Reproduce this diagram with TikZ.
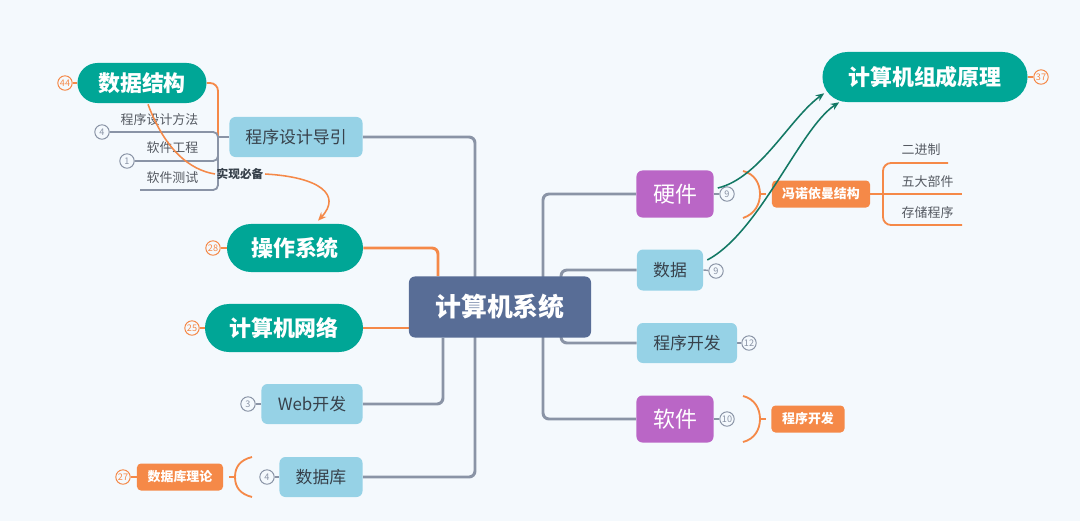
\documentclass[tikz,border=0pt]{standalone}
\usepackage{fontspec}
\setmainfont{Noto Sans CJK SC}
\usetikzlibrary{arrows.meta, positioning, calc, backgrounds}
\definecolor{bgblue}{RGB}{244, 249, 253}
\definecolor{slate}{RGB}{88, 109, 150}
\definecolor{teal1}{RGB}{0, 166, 150}
\definecolor{lblue}{RGB}{150, 210, 230}
\definecolor{purp}{RGB}{186, 102, 198}
\definecolor{orange1}{RGB}{245, 137, 72}
\definecolor{lgray}{RGB}{138, 148, 166}
\definecolor{dtext}{RGB}{55, 65, 75}
\definecolor{gray1}{RGB}{85, 90, 98}
\definecolor{agreen}{RGB}{18, 120, 100}

\begin{document}
\begin{tikzpicture}[x=0.025cm, y=-0.025cm,
  root/.style={fill=slate, rounded corners=0.15cm, text=white, inner sep=0,
               font=\fontsize{18.4}{19}\selectfont\bfseries,
               minimum width=4.55cm, minimum height=1.525cm},
  pill/.style={fill=teal1, rounded corners=#1, text=white, inner sep=0,
               font=\fontsize{15.6}{16}\selectfont\bfseries, minimum height=2*#1},
  box/.style={fill=lblue, rounded corners=0.15cm, text=dtext, inner sep=0,
              font=\fontsize{12}{12}\selectfont, minimum height=1cm},
  pbox/.style={fill=purp, rounded corners=0.15cm, text=white, inner sep=0,
               font=\fontsize{15.6}{16}\selectfont,
               minimum width=1.925cm, minimum height=1.175cm},
  tag/.style={fill=orange1, rounded corners=0.1cm, text=white, inner sep=0,
              font=\fontsize{9.2}{10}\selectfont\bfseries, minimum height=0.675cm},
  leaf/.style={text=gray1, inner sep=1pt, font=\fontsize{9.2}{10}\selectfont},
  badge/.style={circle, draw=#1, fill=bgblue, text=#1, line width=0.7pt,
                inner sep=0, minimum size=0.36cm, font=\fontsize{6.5}{7}\selectfont},
  trunk/.style={draw=lgray, line width=2.1pt, rounded corners=0.15cm},
  twig/.style={draw=lgray, line width=1.3pt, rounded corners=0.12cm},
  otrunk/.style={draw=orange1, line width=2.1pt, rounded corners=0.15cm},
  otwig/.style={draw=orange1, line width=1.3pt, rounded corners=0.2cm},
  brace/.style={draw=orange1, line width=1.3pt},
  link/.style={draw=agreen, line width=1.1pt, -{Stealth[length=6pt, width=5pt]}},
  rel/.style={draw=orange1, line width=1.1pt},
]
\useasboundingbox (0,0) rectangle (1080,521);

% Centre
\node[root] (sys) at (500,307) {计算机系统};

% Left side
\node[pill=0.5cm, minimum width=3.225cm] (ds) at (142,83) {数据结构};
\node[box, minimum width=3.325cm] (pd) at (296,137) {程序设计导引};
\node[pill=0.6cm, minimum width=3.4cm] (os) at (295,248) {操作系统};
\node[pill=0.6cm, minimum width=3.95cm] (net) at (284,328) {计算机网络};
\node[box, minimum width=2.525cm] (web) at (312,404) {Web开发};
\node[box, minimum width=2.075cm] (db) at (321,477) {数据库};
\node[tag, minimum width=2.15cm] (dbt) at (180,477) {数据库理论};

\node[leaf, anchor=east] (pm) at (200,120) {程序设计方法};
\node[leaf, anchor=east] (se) at (200,148) {软件工程};
\node[leaf, anchor=east] (st) at (200,178) {软件测试};

% Right side
\node[pill=0.625cm, minimum width=5.125cm] (cpo) at (925,77) {计算机组成原理};
\node[pbox] (hw) at (675,194) {硬件};
\node[box, minimum width=1.65cm, minimum height=1.025cm] (dat) at (670,270) {数据};
\node[box, minimum width=2.5cm] (pdev) at (687,343) {程序开发};
\node[pbox] (sw) at (675,419) {软件};
\node[tag, minimum width=2.45cm] (vn) at (821,194) {冯诺依曼结构};
\node[tag, minimum width=1.825cm] (swtag) at (808,419) {程序开发};

\node[leaf, anchor=west] (bin) at (900,150) {二进制};
\node[leaf, anchor=west] (five) at (900,182) {五大部件};
\node[leaf, anchor=west] (store) at (900,213) {存储程序};

% Badges
\node[badge=orange1] (b44) at (65,83) {44};
\node[badge=lgray] (b4a) at (102,132) {4};
\node[badge=lgray] (b1) at (127,161) {1};
\node[badge=orange1] (b28) at (213,248) {28};
\node[badge=orange1] (b25) at (192,328) {25};
\node[badge=lgray] (b3) at (248,404) {3};
\node[badge=lgray] (b4b) at (267,477) {4};
\node[badge=orange1] (b27) at (123,477) {27};
\node[badge=orange1] (b37) at (1041,77) {37};
\node[badge=lgray] (b9a) at (727,194) {9};
\node[badge=lgray] (b9b) at (716,271) {9};
\node[badge=lgray] (b12) at (749,343) {12};
\node[badge=lgray] (b10) at (727,419) {10};

\coordinate (lsp) at (475,307);
\coordinate (rsp) at (543,307);
\coordinate (rsp2) at (561,307);
\coordinate (pj) at (218,137);
\coordinate (tstend) at (140,190);
\coordinate (vj) at (883,194);
\coordinate (v1) at (948,163);
\coordinate (v2) at (962,194);
\coordinate (v3) at (962,225);

\begin{scope}[on background layer]
\fill[bgblue] (0,0) rectangle (1080,521);
% main branches
\draw[trunk] (pd.east) -| (lsp) |- (db.east);
\draw[trunk] (web.east) -| ($(sys.south)+(-57,0)$);
\draw[otrunk] (os.east) -| ($(sys.north)+(-62,0)$);
\draw[otrunk] (net.east) -- (net.east -| sys.west);
\draw[trunk] (hw.west) -| (rsp) |- (sw.west);
\draw[trunk] (dat.west) -| (rsp2) |- (pdev.west);
% sub branches
\draw[otwig] (ds.east) -| (pj);
\draw[twig] (pd.west) -- (pj);
\draw[twig] (b4a.east) -| (pj);
\draw[twig] (b1.east) -| (pj);
\draw[twig] (tstend) -| (pj);
\draw[otwig] (vn.east) -- (vj);
\draw[otwig] (vj) |- (v1);
\draw[otwig] (vj) -- (v2);
\draw[otwig] (vj) |- (v3);
% badge stubs
\draw[orange1, line width=1pt] (ds.west) -- (b44);
\draw[orange1, line width=1pt] (os.west) -- (b28);
\draw[orange1, line width=1pt] (net.west) -- (b25);
\draw[orange1, line width=1pt] (dbt.west) -- (b27);
\draw[orange1, line width=1pt] (cpo.east) -- (b37);
\draw[lgray, line width=1pt] (web.west) -- (b3);
\draw[lgray, line width=1pt] (db.west) -- (b4b);
\draw[lgray, line width=1pt] (hw.east) -- (b9a);
\draw[lgray, line width=1pt] (dat.east) -- (b9b);
\draw[lgray, line width=1pt] (pdev.east) -- (b12);
\draw[lgray, line width=1pt] (sw.east) -- (b10);
\end{scope}

% Brackets
\draw[brace] (743,171) .. controls (755,174) and (760,184) .. (760,194)
  .. controls (760,204) and (755,214) .. (743,218);
\draw[brace] (760,194) -- (766,194);
\draw[brace] (743,396) .. controls (755,399) and (760,409) .. (760,419)
  .. controls (760,429) and (755,439) .. (743,442);
\draw[brace] (760,419) -- (766,419);
\draw[brace] (252,457) .. controls (240,460) and (235,467) .. (235,477)
  .. controls (235,487) and (240,494) .. (252,497);
\draw[brace] (235,477) -- (229,477);

% Relations
\node[text=dtext, inner sep=1pt, font=\fontsize{8.3}{9}\selectfont\bfseries] (lbl) at (240,174) {实现必备};
\draw[rel] ($(ds.south)+(6,1)$) .. controls (165,150) and (190,170) .. (lbl.west);
\draw[rel, -{Stealth[length=6pt, width=5pt]}] (lbl.east) .. controls (320,177) and (342,195) .. ($(os.north)+(23,-3)$);

\draw[link] ($(hw.east)+(4,-6)$) .. controls (760,178) and (790,118) .. ($(cpo.south west)+(2,-9)$);
\draw[link] ($(dat.east)+(4,-10)$) .. controls (760,232) and (800,128) .. ($(cpo.south west)+(17,0)$);
\end{tikzpicture}
\end{document}
